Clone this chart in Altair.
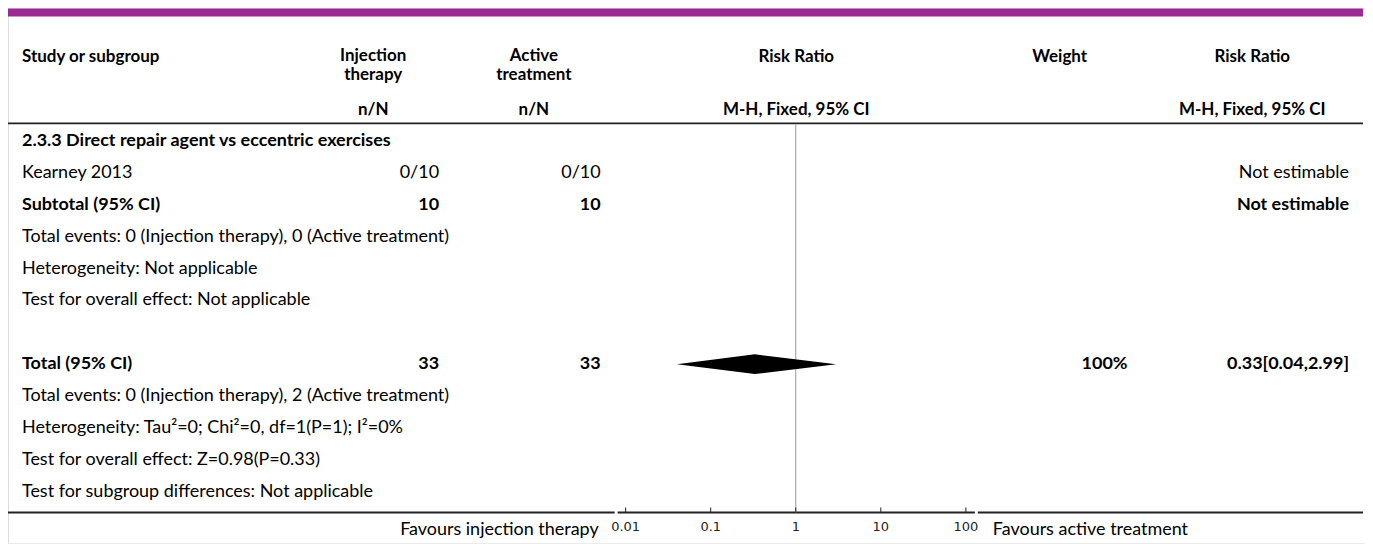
import altair as alt
import pandas as pd

# ---------------- data ----------------
row_labels = [
    "2.3.3 Direct repair agent vs eccentric exercises",
    "Kearney 2013",
    "Subtotal (95% CI)",
    "Total events: 0 (Injection therapy), 0 (Active treatment)",
    "Heterogeneity: Not applicable",
    "Test for overall effect: Not applicable",
    "",
    "Total (95% CI)",
    "Total events: 0 (Injection therapy), 2 (Active treatment)",
    "Heterogeneity: Tau\u00b2=0; Chi\u00b2=0, df=1(P=1); I\u00b2=0%",
    "Test for overall effect: Z=0.98(P=0.33)",
    "Test for subgroup differences: Not applicable",
]
row_bold = [1, 0, 1, 0, 0, 0, 0, 1, 0, 0, 0, 0]
injection_col = ["", "0/10", "10", "", "", "", "", "33", "", "", "", ""]
active_col = ["", "0/10", "10", "", "", "", "", "33", "", "", "", ""]
weight_col = ["", "", "", "", "", "", "", "100%", "", "", "", ""]
rr_col = ["", "Not estimable", "Not estimable", "", "", "", "",
          "0.33[0.04,2.99]", "", "", "", ""]

# pooled estimate (diamond)
total_row = 7
total_est = 0.33
total_lo = 0.04
total_hi = 2.99

axis_ticks = [0.01, 0.1, 1, 10, 100]
axis_tick_labels = ["0.01", "0.1", "1", "10", "100"]
favours_left = "Favours injection therapy"
favours_right = "Favours active treatment"

headers = [
    ("Study or subgroup", "left"),
    ("Injection", "center"), ("therapy", "center"),
    ("Active", "center"), ("treatment", "center"),
    ("Risk Ratio", "center"), ("Weight", "center"), ("Risk Ratio", "center"),
    ("n/N", "center"), ("n/N", "center"),
    ("M-H, Fixed, 95% CI", "center"), ("M-H, Fixed, 95% CI", "center"),
]

# ---------------- layout (pixels, chart coords) ----------------
W, H = 1360, 536
FONT = "Lato"
FS = 18
FS_HEAD = 17
X_LABEL = 14
X_N1 = 432
X_N2 = 594
X_W = 1122
X_RR = 1344
header_pos = [
    (X_LABEL, 49), (366, 48), (366, 67), (527, 48), (527, 67),
    (790, 49), (1054, 49), (1247, 49),
    (366, 102), (527, 102), (790, 102), (1247, 102),
]
Y_HEAD_LINE = 115
Y_AXIS = 505
diamond_half = 0.31  # in row units

yscale = alt.Scale(domain=[0, 11], range=[133, 484], nice=False, zero=False)
xlog = alt.Scale(type="log", domain=[0.01, 100], range=[619, 960], nice=False)

rows = pd.DataFrame({
    "row": list(range(len(row_labels))),
    "label": row_labels,
    "bold": row_bold,
    "n1": injection_col,
    "n2": active_col,
    "w": weight_col,
    "rr": rr_col,
})

def row_text(field, x, align, bold):
    return (
        alt.Chart(rows)
        .transform_filter(f"datum.bold == {1 if bold else 0}")
        .mark_text(align=align, baseline="middle", font=FONT, fontSize=FS,
                   fontWeight="bold" if bold else "normal", color="#000")
        .encode(x=alt.value(x), y=alt.Y("row:Q", scale=yscale, axis=None),
                text=alt.Text(f"{field}:N"))
    )

layers = []
for bold in (False, True):
    layers.append(row_text("label", X_LABEL, "left", bold))
    layers.append(row_text("n1", X_N1, "right", bold))
    layers.append(row_text("n2", X_N2, "right", bold))
    layers.append(row_text("w", X_W, "right", bold))
    layers.append(row_text("rr", X_RR, "right", bold))

# headers
for (txt, align), (hx, hy) in zip(headers, header_pos):
    layers.append(
        alt.Chart(pd.DataFrame({"t": [txt]}))
        .mark_text(align=align, baseline="middle", font=FONT, fontSize=FS_HEAD,
                   fontWeight="bold", color="#000")
        .encode(x=alt.value(hx), y=alt.value(hy), text="t:N")
    )

# purple top bar
layers.append(
    alt.Chart(pd.DataFrame({"a": [0]}))
    .mark_rect(color="#9B2B94")
    .encode(x=alt.value(0), x2=alt.value(1358), y=alt.value(0), y2=alt.value(8))
)

# header rule
layers.append(
    alt.Chart(pd.DataFrame({"a": [0]}))
    .mark_rule(color="#222", strokeWidth=1.8)
    .encode(x=alt.value(0), x2=alt.value(1358), y=alt.value(Y_HEAD_LINE))
)

# bottom rule in segments
for xa, xb in [(0, 608), (611, 969), (972, 1358)]:
    layers.append(
        alt.Chart(pd.DataFrame({"a": [0]}))
        .mark_rule(color="#222", strokeWidth=1.8)
        .encode(x=alt.value(xa), x2=alt.value(xb), y=alt.value(Y_AXIS))
    )

# line of no effect
layers.append(
    alt.Chart(pd.DataFrame({"x": [1.0]}))
    .mark_rule(color="#9a9a9a", strokeWidth=1)
    .encode(x=alt.X("x:Q", scale=xlog, axis=None),
            y=alt.value(Y_HEAD_LINE + 1), y2=alt.value(Y_AXIS))
)

# ticks + labels
ticks = pd.DataFrame({"x": axis_ticks, "lab": axis_tick_labels})
layers.append(
    alt.Chart(ticks)
    .mark_rule(color="#222", strokeWidth=1)
    .encode(x=alt.X("x:Q", scale=xlog, axis=None),
            y=alt.value(Y_AXIS - 5), y2=alt.value(Y_AXIS))
)
layers.append(
    alt.Chart(ticks)
    .mark_text(baseline="middle", align="center", font="DejaVu Sans",
               fontSize=13, color="#222")
    .encode(x=alt.X("x:Q", scale=xlog, axis=None), y=alt.value(Y_AXIS + 15),
            text="lab:N")
)

# favours labels
layers.append(
    alt.Chart(pd.DataFrame({"t": [favours_left]}))
    .mark_text(align="right", baseline="middle", font=FONT, fontSize=FS, color="#000")
    .encode(x=alt.value(592), y=alt.value(Y_AXIS + 18), text="t:N")
)
layers.append(
    alt.Chart(pd.DataFrame({"t": [favours_right]}))
    .mark_text(align="left", baseline="middle", font=FONT, fontSize=FS, color="#000")
    .encode(x=alt.value(987), y=alt.value(Y_AXIS + 18), text="t:N")
)

# diamond (horizontal area: left/right edges at each height)
diamond = pd.DataFrame({
    "yy": [total_row - diamond_half, total_row, total_row + diamond_half],
    "xl": [total_est, total_lo, total_est],
    "xr": [total_est, total_hi, total_est],
})
layers.append(
    alt.Chart(diamond)
    .mark_area(color="#000", opacity=1, interpolate="linear", orient="horizontal")
    .encode(x=alt.X("xl:Q", scale=xlog, axis=None),
            x2="xr:Q",
            y=alt.Y("yy:Q", scale=yscale, axis=None))
)

chart = (
    alt.layer(*layers)
    .properties(width=W, height=H, padding=0, autosize="none")
    .configure_view(stroke=None)
    .configure(background="white")
)

chart.save("out.html", embed_options={"renderer": "svg", "actions": False})
